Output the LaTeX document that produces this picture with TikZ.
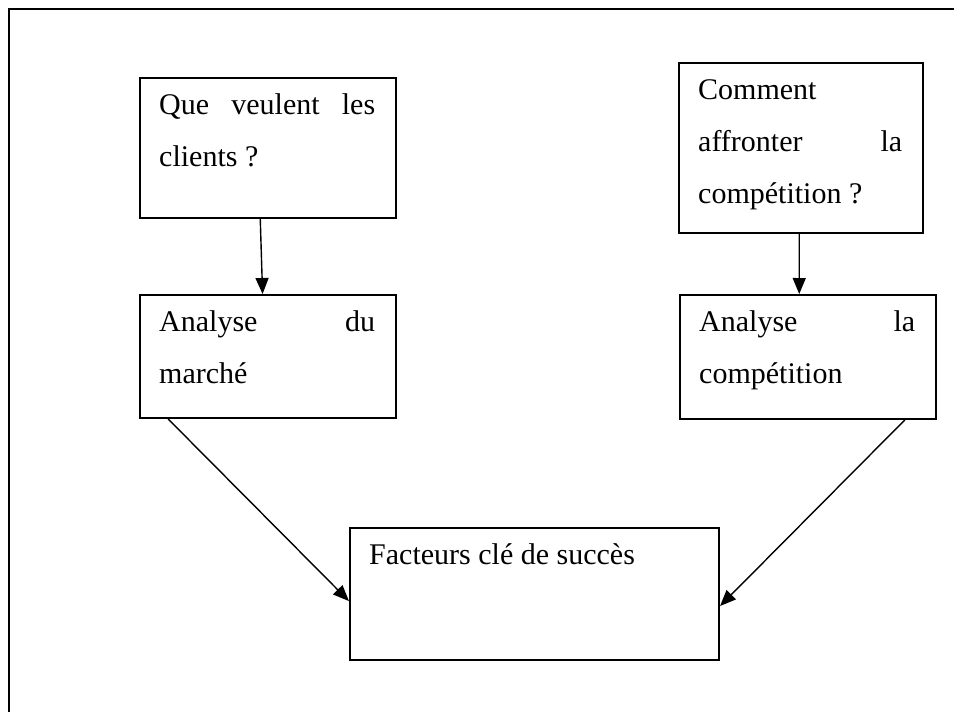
\documentclass[tikz,border=0pt]{standalone}
\usepackage{fontspec}
\setmainfont{Liberation Serif}
\usetikzlibrary{calc,arrows.meta}
\begin{document}
\begin{tikzpicture}[x=1pt,y=-1pt,
  box/.style={draw,line width=2pt,rectangle,inner sep=0pt,anchor=north west},
  txt/.style={inner sep=0pt,anchor=base west,font=\fontsize{30}{51.75}\selectfont},
  arr/.style={line width=1.4pt,-{Triangle[length=16pt,width=13pt]}},
  frame/.style={draw,line width=2pt}]
  \useasboundingbox (0,0) rectangle (954,712);
  \clip (0,0) rectangle (954,712);
  % page frame (runs past the right and bottom edges)
  \draw[frame] (9,9) rectangle (980,740);

  % boxes
  \node[box,minimum width=256pt,minimum height=140pt] (q1) at (139,77) {};
  \node[box,minimum width=256pt,minimum height=123pt] (m)  at (139,294) {};
  \node[box,minimum width=244pt,minimum height=170pt] (q2) at (678,62) {};
  \node[box,minimum width=256pt,minimum height=124pt] (c)  at (679,294) {};
  \node[box,minimum width=369pt,minimum height=132pt] (f)  at (349,527) {};

  % box texts (justified lines, last line flush left)
  \node[txt] (q1t) at ($(q1.north west)+(20,37.7)$)
    {\parbox[t]{216pt}{\hbox to \linewidth{Que\hfill veulent\hfill les}\par clients ?}};
  \node[txt] (mt) at ($(m.north west)+(20,37.7)$)
    {\parbox[t]{216pt}{\hbox to \linewidth{Analyse\hfill du}\par march\'e}};
  \node[txt] (q2t) at ($(q2.north west)+(20,37.7)$)
    {\parbox[t]{204pt}{Comment\par\hbox to \linewidth{affronter\hfill la}\par comp\'etition ?}};
  \node[txt] (ct) at ($(c.north west)+(20,37.7)$)
    {\parbox[t]{216pt}{\hbox to \linewidth{Analyse\hfill la}\par comp\'etition}};
  \node[txt] (ft) at ($(f.north west)+(20,37.7)$)
    {Facteurs cl\'e de succ\`es};

  % connectors
  \draw[arr] ($(q1.south west)!0.47!(q1.south east)$) -- ($(m.north west)!0.479!(m.north east)$);
  \draw[arr] ($(q2.south west)!0.493!(q2.south east)$) -- ($(c.north west)!0.466!(c.north east)$);
  \draw[arr] ($(m.south west)!0.113!(m.south east)$) -- ($(f.north west)!0.553!(f.south west)$);
  \draw[arr] ($(c.south west)!0.875!(c.south east)$) -- ($(f.north east)!0.59!(f.south east)$);
\end{tikzpicture}
\end{document}
